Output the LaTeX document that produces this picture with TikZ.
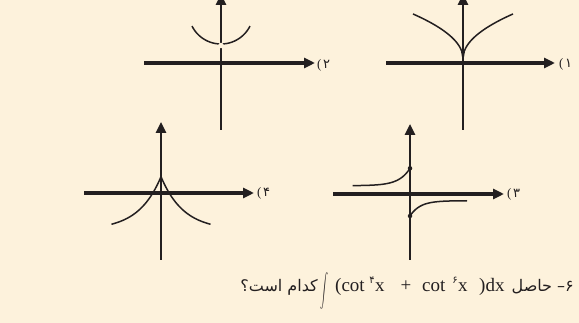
\documentclass[tikz,border=0pt]{standalone}
\usepackage{graphicx}
\usepackage{fontspec}
\setmainfont{Liberation Serif}
\newfontfamily\arabicfont[Script=Arabic]{DejaVu Sans}
\TeXXeTstate=1
\usetikzlibrary{arrows.meta}
\definecolor{bg}{RGB}{253,242,220}
\definecolor{ink}{RGB}{35,31,32}
\begin{document}
\begin{tikzpicture}[x=1pt,y=-1pt,
  haxis/.style={ink,line width=3.2pt,-{Triangle[length=11pt,width=10pt]}},
  vaxis/.style={ink,line width=2.6pt,-{Triangle[length=11pt,width=10pt]}},
  curve/.style={ink,line width=1.5pt},
  dot/.style={circle,fill=ink,inner sep=0pt,minimum size=4.5pt},
  lbl/.style={anchor=west,inner sep=0pt,text=ink,font=\fontsize{13}{13}\selectfont},
  lat/.style={anchor=base west,inner sep=0pt,text=ink,font=\fontsize{19}{19}\selectfont},
  fa/.style={inner sep=0pt,text=ink,font=\fontsize{16}{16}\selectfont\arabicfont},
  sup/.style={inner sep=0pt,text=ink,font=\fontsize{10}{10}\selectfont\arabicfont}]
\fill[bg] (0,0) rectangle (579,323);
\useasboundingbox (0,0) rectangle (579,323);
\clip (0,0) rectangle (579,323);
% graph 1
\draw[vaxis] (463,130) -- (463,-6);
\draw[haxis] (386,63) -- (555,63);
\draw[curve] plot[domain=0:50,samples=40] ({463+\x},{58.3-6.27*sqrt(\x)});
\draw[curve] plot[domain=0:50,samples=40] ({463-\x},{58.3-6.27*sqrt(\x)});
\node[lbl] (l1) at (559,64) {(\hspace{1.5pt}{\arabicfont ۱}};
% graph 2
\draw[vaxis] (221,130) -- (221,-6);
\draw[haxis] (144,63) -- (315,63);
\draw[curve] plot[domain=-63.5:63.5,samples=50] ({221+32.4*sin(\x)},{11.6+32.4*cos(\x)});
\fill[bg] (221,45.5) circle (2.8);
\node[lbl] (l2) at (317,65) {(\hspace{1.5pt}{\arabicfont ۲}};
% graph 4
\draw[vaxis] (161,260) -- (161,122);
\draw[haxis] (84,193) -- (254,193);
\draw[curve] plot[domain=0:49.5,samples=40] ({161+\x},{192.7-53.5*exp(-0.0444*\x)+37.5});
\draw[curve] plot[domain=0:49.5,samples=40] ({161-\x},{192.7-53.5*exp(-0.0444*\x)+37.5});
\node[lbl] (l4) at (257,193) {(\hspace{1.5pt}{\arabicfont ۴}};
% graph 3
\draw[vaxis] (410,260) -- (410,124);
\draw[haxis] (333,194) -- (504,194);
\draw[curve] plot[domain=-57.3:0,samples=40] ({410+\x},{185.7-17.4*exp(\x/11)});
\draw[curve] plot[domain=0:57,samples=40] ({410+\x},{200.7+15.3*exp(-\x/10)});
\node[dot] (d1) at (410,168.3) {};
\node[dot] (d2) at (410,216) {};
\node[lbl] (l3) at (507,194) {(\hspace{1.5pt}{\arabicfont ۳}};
% question
\node[fa,anchor=base east] (q2) at (318,292) {\beginR کدام است؟\endR};
\node[inner sep=0pt,text=ink] (int) at (324,291.5) {\resizebox*{8pt}{37pt}{$\displaystyle\int$}};
\node[lat] (c1) at (335,292) {(cot};
\node[sup] (e1) at (372,280) {۴};
\node[lat] (x1) at (375,292) {x};
\node[lat,anchor=base] (plus) at (406,292) {+};
\node[lat] (c2) at (422,292) {cot};
\node[sup] (e2) at (455,280) {۶};
\node[lat] (x2) at (458,292) {x};
\node[lat] (dx) at (479,292) {)dx};
\node[fa,anchor=base east] (q1) at (574,292) {\beginR ۶– حاصل\endR};
\end{tikzpicture}
\end{document}
